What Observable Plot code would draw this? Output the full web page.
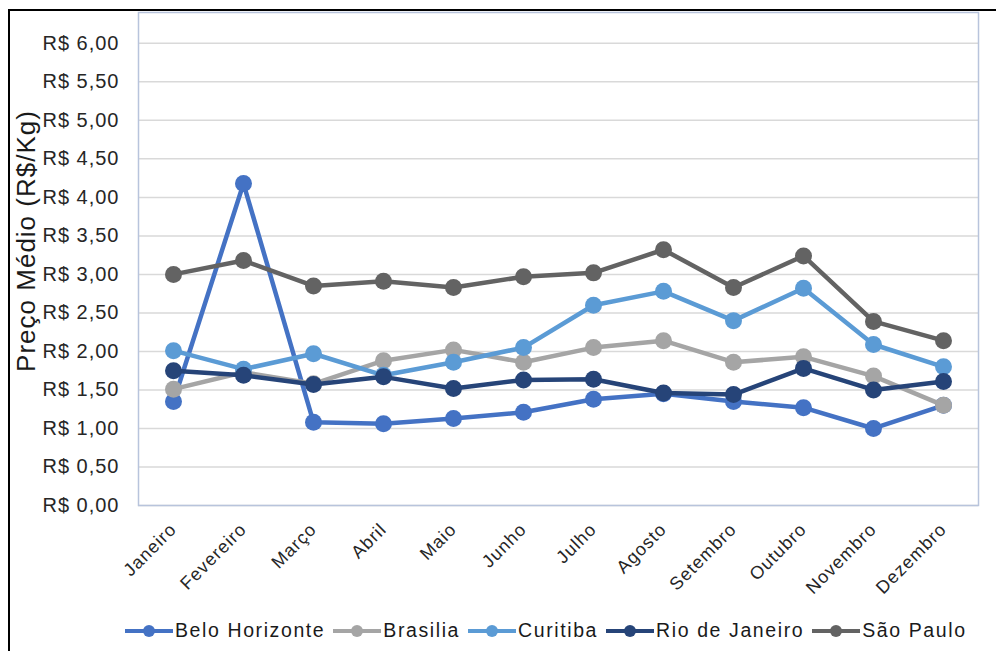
<!DOCTYPE html>
<html>
<head>
<meta charset="utf-8">
<script src="https://cdn.jsdelivr.net/npm/d3@7"></script>
<script src="https://cdn.jsdelivr.net/npm/@observablehq/plot@0.6"></script>
<style>
  html, body { margin: 0; padding: 0; background: #fff; }
  body { width: 996px; height: 651px; overflow: hidden; position: relative; font-family: "Liberation Sans", Arial, sans-serif; }
  #frame { position: absolute; left: 8px; top: 9px; width: 1000px; height: 700px; border: 2.5px solid #000; box-sizing: border-box; }
  #chart { position: absolute; left: 0; top: 0; }
  #ylabel { position: absolute; left: 26px; top: 241px; transform: translate(-50%, -50%) rotate(-90deg); white-space: nowrap; font-size: 26px; letter-spacing: 1px; color: #1a1a1a; }
  #legend { position: absolute; left: 125px; top: 619px; display: flex; gap: 8px; font-size: 19.5px; letter-spacing: 1.6px; color: #1a1a1a; align-items: center; }
  .item { display: flex; align-items: center; }
  .item svg { margin-right: 2px; }
</style>
</head>
<body>
<div id="frame"></div>
<div id="chart"></div>
<div id="ylabel">Preço Médio (R$/Kg)</div>
<div id="legend"></div>
<script>
const months = ["Janeiro","Fevereiro","Março","Abril","Maio","Junho","Julho","Agosto","Setembro","Outubro","Novembro","Dezembro"];
const seriesNames = ["Belo Horizonte","Brasilia","Curitiba","Rio de Janeiro","São Paulo"];
const seriesColors = ["#4472C4","#A5A5A5","#5B9BD5","#264478","#636363"];
const beloHorizonte = [1.35,4.18,1.08,1.06,1.13,1.21,1.38,1.45,1.35,1.27,1.00,1.30];
const brasilia     = [1.51,1.73,1.58,1.88,2.02,1.86,2.05,2.14,1.86,1.93,1.68,1.30];
const curitiba     = [2.01,1.77,1.97,1.69,1.86,2.05,2.60,2.78,2.40,2.82,2.09,1.80];
const rioDeJaneiro = [1.75,1.69,1.57,1.67,1.52,1.63,1.64,1.46,1.44,1.78,1.50,1.61];
const saoPaulo     = [3.00,3.18,2.85,2.91,2.83,2.97,3.02,3.32,2.83,3.24,2.39,2.14];
const yTicks = [0,0.5,1,1.5,2,2.5,3,3.5,4,4.5,5,5.5,6];

const allValues = [beloHorizonte, brasilia, curitiba, rioDeJaneiro, saoPaulo];
const rows = [];
allValues.forEach((vals, s) => vals.forEach((v, i) => rows.push({serie: seriesNames[s], month: months[i], value: v})));

const fmt = d => "R$ " + d.toFixed(2).replace(".", ",");

const marks = [
  Plot.gridY(yTicks, {stroke: "#d9d9d9", strokeOpacity: 1, strokeWidth: 1.5}),
  Plot.axisY(yTicks, {tickFormat: fmt, tickSize: 0, tickPadding: 19, fontSize: 20, fill: "#262626", label: null}),
  Plot.axisX({tickRotate: -45, tickSize: 0, tickPadding: 21, fontSize: 18, fill: "#262626", label: null}),
  Plot.frame({stroke: "#b8c4dc", strokeWidth: 1.5})
];
seriesNames.forEach((name, s) => {
  const d = rows.filter(r => r.serie === name);
  marks.push(Plot.line(d, {x: "month", y: "value", stroke: seriesColors[s], strokeWidth: 4.5}));
  marks.push(Plot.dot(d, {x: "month", y: "value", fill: seriesColors[s], r: 8.5}));
});

const chart = Plot.plot({
  width: 996,
  height: 601,
  marginLeft: 138,
  marginRight: 18,
  marginTop: 12,
  marginBottom: 96,
  style: {fontFamily: "'Liberation Sans', Arial, sans-serif", background: "transparent", overflow: "visible"},
  x: {type: "point", domain: months, padding: 0.5},
  y: {domain: [0, 6.4]},
  marks
});
chart.querySelectorAll("[aria-label='y-axis tick label'] text, [aria-label='x-axis tick label'] text").forEach(t => t.setAttribute("letter-spacing", "1"));
document.getElementById("chart").appendChild(chart);

const legend = document.getElementById("legend");
seriesNames.forEach((name, s) => {
  const item = document.createElement("div");
  item.className = "item";
  item.innerHTML = `<svg width="48" height="16"><line x1="0" y1="8" x2="48" y2="8" stroke="${seriesColors[s]}" stroke-width="4"/><circle cx="24" cy="8" r="6" fill="${seriesColors[s]}"/></svg><span>${name}</span>`;
  legend.appendChild(item);
});
</script>
</body>
</html>
